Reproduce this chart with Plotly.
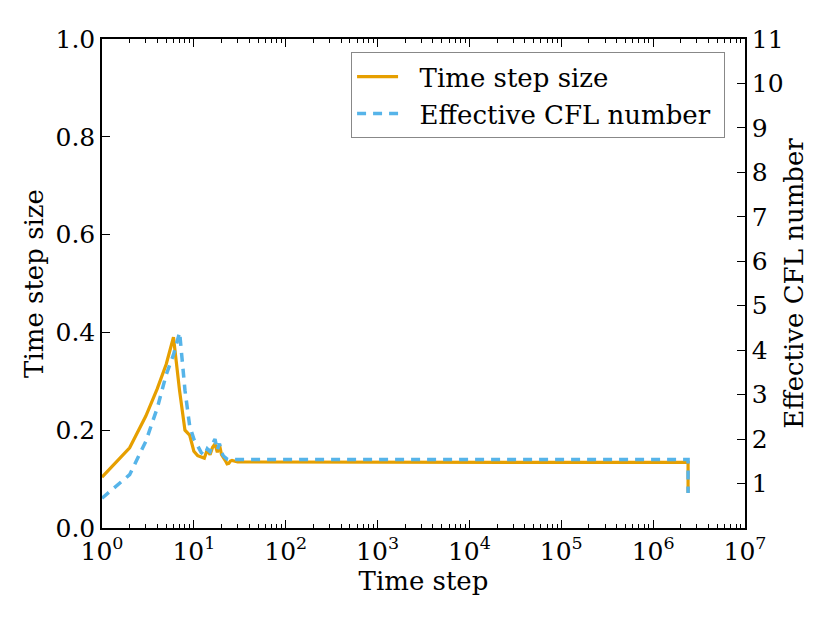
import plotly.graph_objects as go

# Data
steps = [1, 2, 3, 4, 5, 6, 7, 8, 9, 10, 11, 12, 13, 14, 15, 16, 17, 18, 19, 20,
         21, 22, 23, 24, 25, 26, 30, 100, 1000, 10000, 100000, 1000000, 2400000, 2400000]
dt_size = [0.104, 0.164, 0.229, 0.285, 0.335, 0.39, 0.28, 0.20, 0.19, 0.157,
           0.148, 0.145, 0.143, 0.160, 0.150, 0.165, 0.172, 0.155, 0.170, 0.150,
           0.145, 0.138, 0.131, 0.132, 0.137, 0.138, 0.135, 0.135, 0.135, 0.135,
           0.135, 0.134, 0.134, 0.072]
cfl = [0.67, 1.2, 1.95, 2.7, 3.45, 3.9, 4.4, 3.1, 2.3, 2.0,
       1.85, 1.70, 1.63, 1.78, 1.72, 1.90, 2.0, 1.75, 1.9, 1.7,
       1.62, 1.57, 1.55, 1.54, 1.54, 1.54, 1.54, 1.54, 1.54, 1.54,
       1.54, 1.54, 1.54, 0.79]

x_tickvals = [10 ** k for k in range(8)]
x_ticktext = ["10<sup>%d</sup>" % k for k in range(8)]
x_minor = [m * 10 ** k for k in range(7) for m in range(2, 10)]
y_tickvals = [0.0, 0.2, 0.4, 0.6, 0.8, 1.0]
y_ticktext = ["0.0", "0.2", "0.4", "0.6", "0.8", "1.0"]
y2_tickvals = list(range(1, 12))

FONT = "DejaVu Serif"
TITLE_FONT = dict(family=FONT, size=26, color="black")
NB = "\u00a0\u00a0"
fig = go.Figure()
fig.add_trace(go.Scatter(x=steps, y=dt_size, mode="lines", name=NB + "Time step size\u00a0",
                         line=dict(color="#E69F00", width=3.2)))
fig.add_trace(go.Scatter(x=steps, y=cfl, mode="lines", name=NB + "Effective CFL number\u00a0",
                         yaxis="y2", line=dict(color="#56B4E9", width=3.5, dash="9px,7px")))

fig.update_layout(
    width=830, height=623,
    margin=dict(l=94, r=93, t=31, b=103),
    paper_bgcolor="white", plot_bgcolor="white",
    font=dict(family=FONT, size=25, color="black"),
    xaxis=dict(type="log", range=[0, 7], tickvals=x_tickvals, ticktext=x_ticktext,
               ticks="inside", ticklen=8, tickwidth=1, tickcolor="black",
               showline=True, linecolor="black", linewidth=1.5, mirror="ticks",
               showgrid=False, zeroline=False,
               minor=dict(tickvals=x_minor, ticks="inside", ticklen=4, tickcolor="black", showgrid=False),
               title=dict(text="Time step", standoff=4, font=TITLE_FONT),
               tickfont=dict(size=25)),
    yaxis=dict(range=[0, 1.0], tickvals=y_tickvals, ticktext=y_ticktext,
               ticks="inside", ticklen=8, tickcolor="black",
               showline=True, linecolor="black", linewidth=1.5,
               showgrid=False, zeroline=False,
               title=dict(text="Time step size", standoff=4, font=TITLE_FONT)),
    yaxis2=dict(range=[0, 11], tickvals=y2_tickvals, overlaying="y", side="right",
                ticks="inside", ticklen=8, tickcolor="black",
                showline=True, linecolor="black", linewidth=1.5,
                showgrid=False, zeroline=False,
                title=dict(text="Effective CFL number", standoff=2, font=TITLE_FONT)),
    legend=dict(x=0.969, y=0.973, xanchor="right", yanchor="top",
                bordercolor="#888888", borderwidth=1, bgcolor="white",
                itemwidth=41, tracegroupgap=4,
                font=dict(family=FONT, size=26)),
    showlegend=True,
)

fig.write_html("out.html")
